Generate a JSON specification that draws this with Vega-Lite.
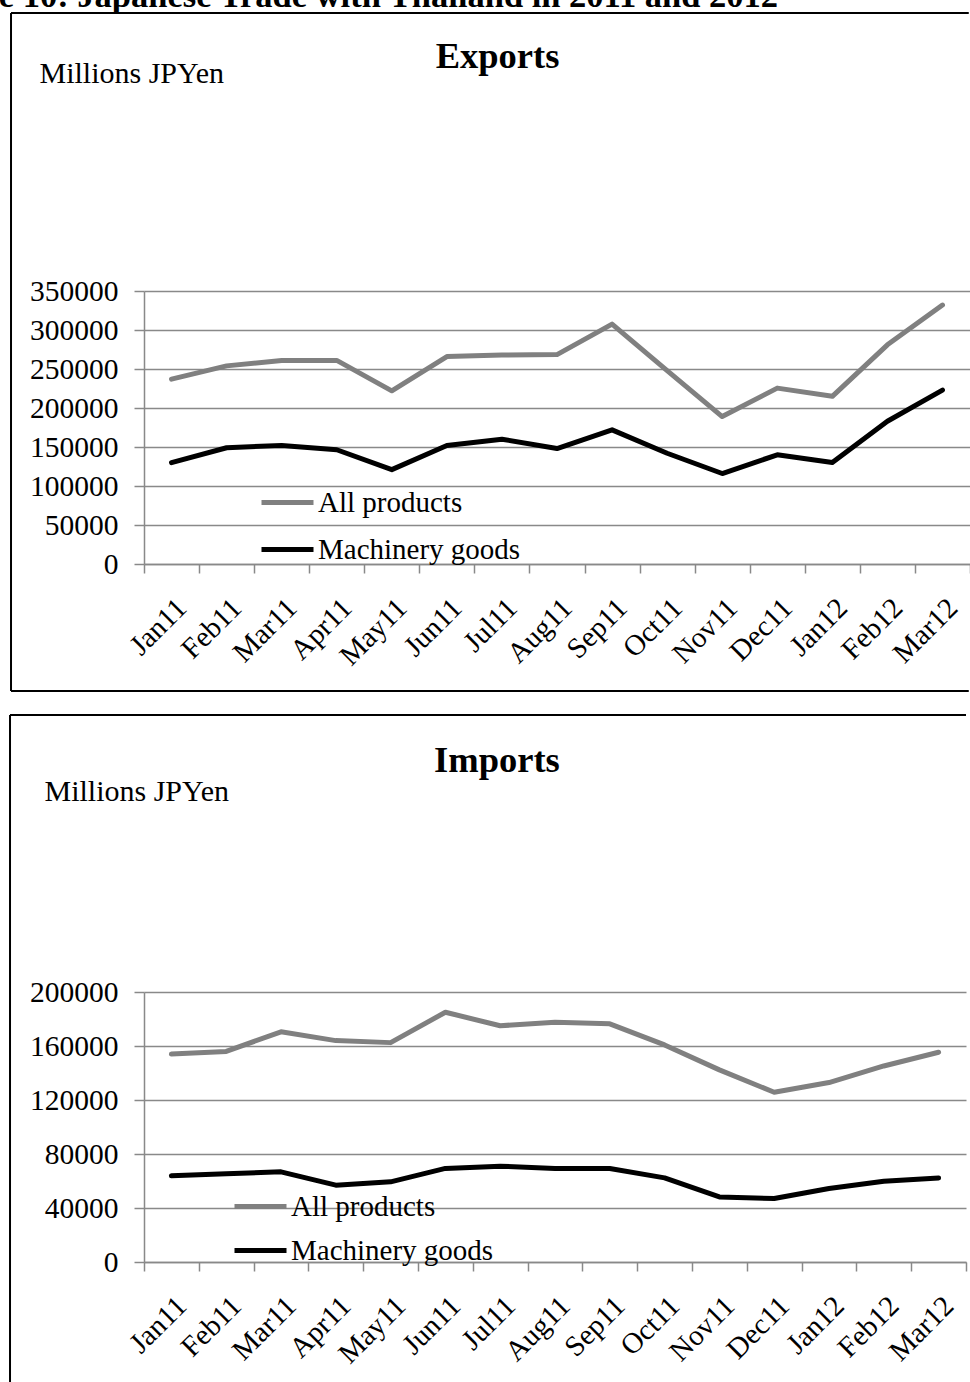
{
  "$schema": "https://vega.github.io/schema/vega-lite/v6.json",
  "padding": {"left": -83, "top": -22, "right": 0, "bottom": 0},
  "title": {"text": "Figure 10: Japanese Trade with Thailand in 2011 and 2012", "anchor": "start", "font": "Liberation Serif", "fontSize": 34.5, "fontWeight": "bold", "baseline": "alphabetic", "offset": -29, "dx": -92, "color": "black"},
  "datasets": {
    "exports": [
      {"month": "Jan11", "series": "All products", "value": 237000},
      {"month": "Feb11", "series": "All products", "value": 254000},
      {"month": "Mar11", "series": "All products", "value": 261000},
      {"month": "Apr11", "series": "All products", "value": 261000},
      {"month": "May11", "series": "All products", "value": 222000},
      {"month": "Jun11", "series": "All products", "value": 266000},
      {"month": "Jul11", "series": "All products", "value": 268000},
      {"month": "Aug11", "series": "All products", "value": 268500},
      {"month": "Sep11", "series": "All products", "value": 307500},
      {"month": "Oct11", "series": "All products", "value": 248000},
      {"month": "Nov11", "series": "All products", "value": 189000},
      {"month": "Dec11", "series": "All products", "value": 225500},
      {"month": "Jan12", "series": "All products", "value": 215000},
      {"month": "Feb12", "series": "All products", "value": 281000},
      {"month": "Mar12", "series": "All products", "value": 332000},
      {"month": "Jan11", "series": "Machinery goods", "value": 130000},
      {"month": "Feb11", "series": "Machinery goods", "value": 149000},
      {"month": "Mar11", "series": "Machinery goods", "value": 152000},
      {"month": "Apr11", "series": "Machinery goods", "value": 146500},
      {"month": "May11", "series": "Machinery goods", "value": 121000},
      {"month": "Jun11", "series": "Machinery goods", "value": 152000},
      {"month": "Jul11", "series": "Machinery goods", "value": 160000},
      {"month": "Aug11", "series": "Machinery goods", "value": 148000},
      {"month": "Sep11", "series": "Machinery goods", "value": 172000},
      {"month": "Oct11", "series": "Machinery goods", "value": 142000},
      {"month": "Nov11", "series": "Machinery goods", "value": 116000},
      {"month": "Dec11", "series": "Machinery goods", "value": 140000},
      {"month": "Jan12", "series": "Machinery goods", "value": 130000},
      {"month": "Feb12", "series": "Machinery goods", "value": 183000},
      {"month": "Mar12", "series": "Machinery goods", "value": 223000}
    ],
    "imports": [
      {"month": "Jan11", "series": "All products", "value": 154000},
      {"month": "Feb11", "series": "All products", "value": 156000},
      {"month": "Mar11", "series": "All products", "value": 170500},
      {"month": "Apr11", "series": "All products", "value": 164000},
      {"month": "May11", "series": "All products", "value": 162500},
      {"month": "Jun11", "series": "All products", "value": 185000},
      {"month": "Jul11", "series": "All products", "value": 175000},
      {"month": "Aug11", "series": "All products", "value": 177600},
      {"month": "Sep11", "series": "All products", "value": 176400},
      {"month": "Oct11", "series": "All products", "value": 160800},
      {"month": "Nov11", "series": "All products", "value": 142300},
      {"month": "Dec11", "series": "All products", "value": 125700},
      {"month": "Jan12", "series": "All products", "value": 132900},
      {"month": "Feb12", "series": "All products", "value": 145200},
      {"month": "Mar12", "series": "All products", "value": 155400},
      {"month": "Jan11", "series": "Machinery goods", "value": 63800},
      {"month": "Feb11", "series": "Machinery goods", "value": 65300},
      {"month": "Mar11", "series": "Machinery goods", "value": 66800},
      {"month": "Apr11", "series": "Machinery goods", "value": 56900},
      {"month": "May11", "series": "Machinery goods", "value": 59400},
      {"month": "Jun11", "series": "Machinery goods", "value": 69300},
      {"month": "Jul11", "series": "Machinery goods", "value": 71000},
      {"month": "Aug11", "series": "Machinery goods", "value": 69300},
      {"month": "Sep11", "series": "Machinery goods", "value": 69300},
      {"month": "Oct11", "series": "Machinery goods", "value": 62300},
      {"month": "Nov11", "series": "Machinery goods", "value": 48200},
      {"month": "Dec11", "series": "Machinery goods", "value": 47000},
      {"month": "Jan12", "series": "Machinery goods", "value": 54400},
      {"month": "Feb12", "series": "Machinery goods", "value": 59800},
      {"month": "Mar12", "series": "Machinery goods", "value": 62300}
    ]
  },
  "spacing": 21,
  "resolve": {"scale": {"color": "independent"}, "legend": {"color": "independent"}},
  "vconcat": [
    {
      "width": 826,
      "height": 273,
      "layer": [
        {
          "data": {"values": [{}]},
          "layer": [
            {"mark": {"type": "rule", "color": "black", "strokeWidth": 2},
             "encoding": {
               "x": {"datum": -0.161, "type": "quantitative", "scale": {"domain": [0, 1], "nice": false, "zero": false}, "axis": null},
               "x2": {"datum": 0.9985},
               "y": {"datum": 2.018, "type": "quantitative", "scale": {"domain": [0, 1], "nice": false, "zero": false}, "axis": null}
             }},
            {"mark": {"type": "rule", "color": "black", "strokeWidth": 2},
             "encoding": {
               "x": {"datum": -0.161, "type": "quantitative", "axis": null},
               "x2": {"datum": 0.9985},
               "y": {"datum": -0.465, "type": "quantitative", "axis": null}
             }},
            {"mark": {"type": "rule", "color": "black", "strokeWidth": 2},
             "encoding": {
               "x": {"datum": -0.161, "type": "quantitative", "axis": null},
               "y": {"datum": 2.018, "type": "quantitative", "axis": null},
               "y2": {"datum": -0.465}
             }},
            {"mark": {"type": "text", "text": "Exports", "font": "Liberation Serif", "fontSize": 36.5, "fontWeight": "bold", "color": "black", "align": "center", "baseline": "alphabetic"},
             "encoding": {
               "x": {"datum": 0.428, "type": "quantitative", "axis": null},
               "y": {"datum": 1.817, "type": "quantitative", "axis": null}
             }}
          ]
        },
        {
          "data": {"name": "exports"},
          "mark": {"type": "line", "strokeWidth": 5, "strokeCap": "round", "strokeJoin": "round"},
          "encoding": {
            "x": {"field": "month", "type": "ordinal", "sort": null, "scale": {"type": "band", "paddingInner": 0, "paddingOuter": 0},
                  "axis": {"title": null, "labelAngle": -45, "labelAlign": "right", "labelBaseline": "top", "labelPadding": 20, "tickSize": 9, "tickBand": "extent", "grid": false, "labelOverlap": false, "labelBound": false}},
            "y": {"field": "value", "type": "quantitative", "scale": {"domain": [0, 350000], "nice": false},
                  "axis": {"values": [0, 50000, 100000, 150000, 200000, 250000, 300000, 350000], "format": "d", "title": "Millions JPYen", "titleAngle": 0, "titleX": -105, "titleY": -209, "titleAlign": "left", "titleBaseline": "alphabetic", "tickSize": 10, "labelPadding": 16, "grid": true}},
            "color": {"field": "series", "type": "nominal", "sort": null,
                      "scale": {"domain": ["All products", "Machinery goods"], "range": ["#808080", "#000000"]},
                      "legend": {"orient": "none", "legendX": 115, "legendY": 183, "title": null, "symbolType": "stroke", "symbolSize": 2704, "symbolStrokeWidth": 5, "labelOffset": 2, "rowPadding": 3, "padding": 0}}
          }
        }
      ],
      "resolve": {"scale": {"x": "independent", "y": "independent"}}
    },
    {
      "width": 822,
      "height": 270,
      "layer": [
        {
          "data": {"values": [{}]},
          "layer": [
            {"mark": {"type": "rule", "color": "black", "strokeWidth": 2},
             "encoding": {
               "x": {"datum": -0.163, "type": "quantitative", "scale": {"domain": [0, 1], "nice": false, "zero": false}, "axis": null},
               "x2": {"datum": 1.0},
               "y": {"datum": 2.026, "type": "quantitative", "scale": {"domain": [0, 1], "nice": false, "zero": false}, "axis": null}
             }},
            {"mark": {"type": "rule", "color": "black", "strokeWidth": 2},
             "encoding": {
               "x": {"datum": -0.163, "type": "quantitative", "axis": null},
               "y": {"datum": 2.026, "type": "quantitative", "axis": null},
               "y2": {"datum": -0.452}
             }},
            {"mark": {"type": "text", "text": "Imports", "font": "Liberation Serif", "fontSize": 36.5, "fontWeight": "bold", "color": "black", "align": "center", "baseline": "alphabetic"},
             "encoding": {
               "x": {"datum": 0.4294, "type": "quantitative", "axis": null},
               "y": {"datum": 1.815, "type": "quantitative", "axis": null}
             }}
          ]
        },
        {
          "data": {"name": "imports"},
          "mark": {"type": "line", "strokeWidth": 5, "strokeCap": "round", "strokeJoin": "round"},
          "encoding": {
            "x": {"field": "month", "type": "ordinal", "sort": null, "scale": {"type": "band", "paddingInner": 0, "paddingOuter": 0},
                  "axis": {"title": null, "labelAngle": -45, "labelAlign": "right", "labelBaseline": "top", "labelPadding": 20, "tickSize": 9, "tickBand": "extent", "grid": false, "labelOverlap": false, "labelBound": false}},
            "y": {"field": "value", "type": "quantitative", "scale": {"domain": [0, 200000], "nice": false},
                  "axis": {"values": [0, 40000, 80000, 120000, 160000, 200000], "format": "d", "title": "Millions JPYen", "titleAngle": 0, "titleX": -100, "titleY": -192, "titleAlign": "left", "titleBaseline": "alphabetic", "tickSize": 10, "labelPadding": 16, "grid": true}},
            "color": {"field": "series", "type": "nominal", "sort": null,
                      "scale": {"domain": ["All products", "Machinery goods"], "range": ["#808080", "#000000"]},
                      "legend": {"orient": "none", "legendX": 88, "legendY": 186, "title": null, "symbolType": "stroke", "symbolSize": 2704, "symbolStrokeWidth": 5, "labelOffset": 2, "rowPadding": -2, "padding": 0}}
          }
        }
      ],
      "resolve": {"scale": {"x": "independent", "y": "independent"}}
    }
  ],
  "config": {
    "view": {"stroke": null},
    "font": "Liberation Serif",
    "axis": {
      "labelFont": "Liberation Serif", "labelFontSize": 29.5, "labelColor": "black",
      "titleFont": "Liberation Serif", "titleFontSize": 30, "titleFontWeight": "normal", "titleColor": "black",
      "domainColor": "#898989", "domainWidth": 1.5, "tickColor": "#898989", "tickWidth": 1.5,
      "gridColor": "#898989", "gridWidth": 1.5
    },
    "axisX": {"labelFontSize": 29},
    "legend": {"labelFont": "Liberation Serif", "labelFontSize": 29, "labelColor": "black", "labelLimit": 400}
  }
}
